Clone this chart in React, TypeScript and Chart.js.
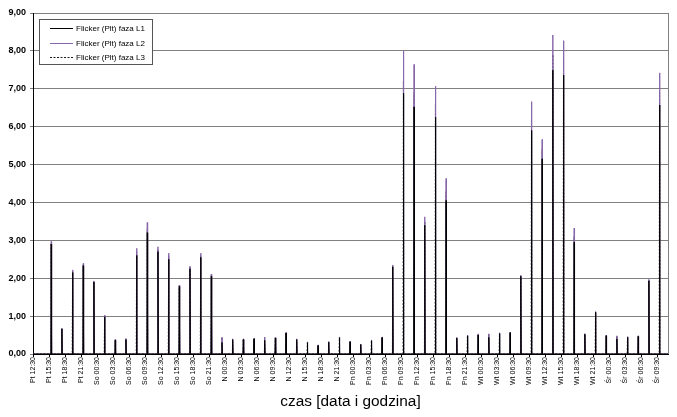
import React, { useEffect, useRef } from 'react';
import { Chart, registerables } from 'chart.js';

Chart.register(...registerables);

const FONT = "'Liberation Sans', Arial, Helvetica, sans-serif";

const xTitle = 'czas [data i godzina]';
const seriesLabels = ['Flicker (Plt) faza L1', 'Flicker (Plt) faza L2', 'Flicker (Plt) faza L3'];

const axisStart = 'Pt 12:30';
const axisEnd = 'Śr 11:30';

const tickLabels = [
  'Pt 12:30', 'Pt 15:30', 'Pt 18:30', 'Pt 21:30',
  'So 00:30', 'So 03:30', 'So 06:30', 'So 09:30', 'So 12:30', 'So 15:30', 'So 18:30', 'So 21:30',
  'N 00:30', 'N 03:30', 'N 06:30', 'N 09:30', 'N 12:30', 'N 15:30', 'N 18:30', 'N 21:30',
  'Pn 00:30', 'Pn 03:30', 'Pn 06:30', 'Pn 09:30', 'Pn 12:30', 'Pn 15:30', 'Pn 18:30', 'Pn 21:30',
  'Wt 00:30', 'Wt 03:30', 'Wt 06:30', 'Wt 09:30', 'Wt 12:30', 'Wt 15:30', 'Wt 18:30', 'Wt 21:30',
  'Śr 00:30', 'Śr 03:30', 'Śr 06:30', 'Śr 09:30',
];

const measurementTimes = [
  'Pt 15:55', 'Pt 17:55', 'Pt 19:55', 'Pt 21:55', 'Pt 23:55',
  'So 01:55', 'So 03:55', 'So 05:55', 'So 07:55', 'So 09:55', 'So 11:55',
  'So 13:55', 'So 15:55', 'So 17:55', 'So 19:55', 'So 21:55', 'So 23:55',
  'N 01:55', 'N 03:55', 'N 05:55', 'N 07:55', 'N 09:55', 'N 11:55',
  'N 13:55', 'N 15:55', 'N 17:55', 'N 19:55', 'N 21:55', 'N 23:55',
  'Pn 01:55', 'Pn 03:55', 'Pn 05:55', 'Pn 07:55', 'Pn 09:55', 'Pn 11:55',
  'Pn 13:55', 'Pn 15:55', 'Pn 17:55', 'Pn 19:55', 'Pn 21:55', 'Pn 23:55',
  'Wt 01:55', 'Wt 03:55', 'Wt 05:55', 'Wt 07:55', 'Wt 09:55', 'Wt 11:55',
  'Wt 13:55', 'Wt 15:55', 'Wt 17:55', 'Wt 19:55', 'Wt 21:55', 'Wt 23:55',
  'Śr 01:55', 'Śr 03:55', 'Śr 05:55', 'Śr 07:55', 'Śr 09:55',
];

const pltL1 = [
  2.90, 0.66, 2.15, 2.33, 1.90, 0.98, 0.36, 0.38, 2.60, 3.20, 2.70, 2.50, 1.78, 2.25, 2.55, 2.05,
  0.30, 0.38, 0.38, 0.40, 0.36, 0.42, 0.55, 0.38, 0.30, 0.22, 0.31, 0.43, 0.32, 0.25, 0.35, 0.43,
  2.30, 6.88, 6.52, 3.40, 6.25, 4.05, 0.42, 0.48, 0.50, 0.44, 0.54, 0.56, 2.05, 5.90, 5.15, 7.49,
  7.36, 2.95, 0.52, 1.10, 0.48, 0.40, 0.44, 0.46, 1.93, 6.57,
];

const pltL2 = [
  2.97, 0.68, 2.22, 2.39, 1.93, 1.03, 0.39, 0.41, 2.79, 3.47, 2.83, 2.66, 1.82, 2.32, 2.66, 2.11,
  0.44, 0.40, 0.40, 0.41, 0.44, 0.44, 0.57, 0.40, 0.32, 0.24, 0.33, 0.45, 0.34, 0.26, 0.37, 0.45,
  2.35, 8.00, 7.64, 3.62, 7.07, 4.63, 0.44, 0.50, 0.53, 0.53, 0.56, 0.58, 2.08, 6.66, 5.66, 8.42,
  8.27, 3.32, 0.54, 1.12, 0.50, 0.48, 0.46, 0.48, 1.97, 7.42,
];

const pltL3 = [
  2.92, 0.67, 2.18, 2.35, 1.91, 1.00, 0.37, 0.39, 2.70, 3.30, 2.75, 2.58, 1.80, 2.28, 2.60, 2.08,
  0.44, 0.39, 0.39, 0.40, 0.44, 0.43, 0.56, 0.39, 0.31, 0.23, 0.32, 0.44, 0.33, 0.25, 0.36, 0.44,
  2.32, 7.20, 6.90, 3.50, 6.60, 4.30, 0.43, 0.49, 0.51, 0.53, 0.55, 0.57, 2.06, 6.20, 5.40, 7.90,
  7.80, 3.10, 0.53, 1.11, 0.49, 0.48, 0.45, 0.47, 1.95, 6.90,
];

const dayIndex: Record<string, number> = { Pt: 0, So: 1, N: 2, Pn: 3, Wt: 4, 'Śr': 5 };

function toMinutes(label: string): number {
  const [d, hm] = label.split(' ');
  const [h, m] = hm.split(':').map(Number);
  const [sd, shm] = axisStart.split(' ');
  const [shh, smm] = shm.split(':').map(Number);
  return (dayIndex[d] - dayIndex[sd]) * 1440 + h * 60 + m - (shh * 60 + smm);
}

const SAMPLE_HALF = 4; // minutes either side of a reading where the trace returns to zero

function buildSeries(values: number[]) {
  const pts: { x: number; y: number }[] = [{ x: toMinutes(axisStart), y: 0 }];
  values.forEach((v, i) => {
    const t = toMinutes(measurementTimes[i]);
    pts.push({ x: t - SAMPLE_HALF, y: 0 }, { x: t, y: v }, { x: t + SAMPLE_HALF, y: 0 });
  });
  pts.push({ x: toMinutes(axisEnd), y: 0 });
  return pts;
}

const framePlugin = {
  id: 'frameRight',
  afterDatasetsDraw(chart: any) {
    const { ctx, chartArea } = chart;
    ctx.save();
    ctx.strokeStyle = '#808080';
    ctx.lineWidth = 1;
    ctx.beginPath();
    const x = Math.round(chartArea.right) + 0.5;
    ctx.moveTo(x, chartArea.top);
    ctx.lineTo(x, chartArea.bottom);
    ctx.stroke();
    ctx.restore();
  },
};

const boxLegendPlugin = {
  id: 'boxLegend',
  afterDraw(chart: any) {
    const { ctx, chartArea } = chart;
    const x0 = Math.round(chartArea.left + 6) + 0.5;
    const y0 = Math.round(chartArea.top + 6) + 0.5;
    ctx.save();
    ctx.font = `8px ${FONT}`;
    const items = chart.data.datasets;
    const textX = x0 + 36.5;
    const maxW = Math.max(...items.map((d: any) => ctx.measureText(d.label).width));
    const w = Math.round(textX + maxW + 8 - x0);
    const h = 45;
    ctx.fillStyle = '#ffffff';
    ctx.fillRect(x0, y0, w, h);
    ctx.strokeStyle = '#555555';
    ctx.lineWidth = 1;
    ctx.strokeRect(x0, y0, w, h);
    items.forEach((d: any, i: number) => {
      const y = Math.round(y0 + 8.5 + i * 14.5) + 0.5;
      ctx.beginPath();
      ctx.setLineDash(d.borderDash || []);
      ctx.strokeStyle = d.borderColor;
      ctx.moveTo(x0 + 10.5, y);
      ctx.lineTo(x0 + 33.5, y);
      ctx.stroke();
      ctx.setLineDash([]);
      ctx.fillStyle = '#000000';
      ctx.textBaseline = 'middle';
      ctx.textAlign = 'left';
      ctx.fillText(d.label, textX, y);
    });
    ctx.restore();
  },
};

export default function App() {
  const ref = useRef<HTMLCanvasElement>(null);

  useEffect(() => {
    if (!ref.current) return;
    const chart = new Chart(ref.current, {
      type: 'line',
      data: {
        datasets: [
          {
            label: seriesLabels[0],
            data: buildSeries(pltL1),
            borderColor: '#000000',
            borderWidth: 1,
          },
          {
            label: seriesLabels[1],
            data: buildSeries(pltL2),
            borderColor: '#8866aa',
            borderWidth: 1,
          },
          {
            label: seriesLabels[2],
            data: buildSeries(pltL3),
            borderColor: '#1a1a1a',
            borderWidth: 1,
            borderDash: [2, 1.5],
          },
        ],
      },
      options: {
        responsive: false,
        animation: false,
        layout: { padding: { top: 13, right: 9, left: 0, bottom: 0 } },
        plugins: {
          legend: { display: false },
          tooltip: { enabled: false },
        },
        elements: {
          point: { radius: 0, hoverRadius: 0 },
          line: { tension: 0, borderWidth: 1, fill: false, borderJoinStyle: 'bevel' },
        },
        scales: {
          x: {
            type: 'linear',
            min: toMinutes(axisStart),
            max: toMinutes(axisEnd),
            afterBuildTicks: (s: any) => {
              s.ticks = tickLabels.map((l) => ({ value: toMinutes(l) }));
            },
            afterFit: (s: any) => {
              s.height = 63;
            },
            ticks: {
              autoSkip: false,
              maxRotation: 90,
              minRotation: 90,
              padding: 0,
              color: '#000000',
              font: { family: FONT, size: 7 },
              callback: (v: any) => {
                const l = tickLabels.find((t) => toMinutes(t) === v);
                return l ?? '';
              },
            },
            grid: {
              display: true,
              drawOnChartArea: false,
              drawTicks: true,
              tickLength: 3,
              color: '#000000',
            },
            border: { display: true, color: '#000000' },
            title: {
              display: true,
              text: xTitle,
              color: '#000000',
              font: { family: FONT, size: 15.4 },
              padding: { top: 0, bottom: 6 },
            },
          },
          y: {
            type: 'linear',
            min: 0,
            max: 9,
            afterFit: (s: any) => {
              s.width = 33;
            },
            ticks: {
              stepSize: 1,
              padding: 4,
              color: '#000000',
              font: { family: FONT, size: 9, weight: 'bold' },
              callback: (v: any) => Number(v).toFixed(2).replace('.', ','),
            },
            grid: {
              color: '#808080',
              lineWidth: 1,
              tickLength: 3,
            },
            border: { display: true, color: '#000000' },
          },
        },
      },
      plugins: [framePlugin, boxLegendPlugin],
    } as any);
    return () => chart.destroy();
  }, []);

  return (
    <canvas
      ref={ref}
      width={677}
      height={417}
      style={{ position: 'absolute', left: 0, top: 0, display: 'block', width: 677, height: 417 }}
    />
  );
}
